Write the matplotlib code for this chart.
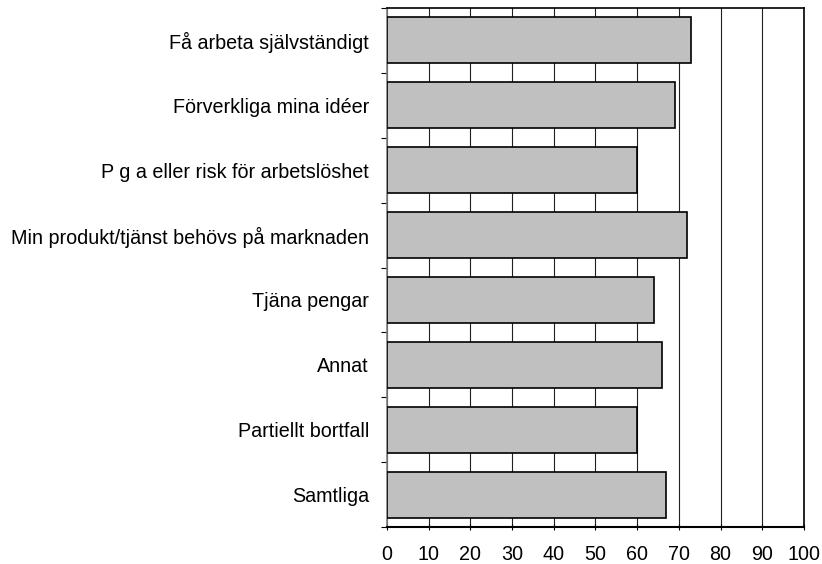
import matplotlib
matplotlib.use("Agg")
import matplotlib.pyplot as plt
import numpy as np

categories = [
    "Få arbeta självständigt",
    "Förverkliga mina idéer",
    "P g a eller risk för arbetslöshet",
    "Min produkt/tjänst behövs på marknaden",
    "Tjäna pengar",
    "Annat",
    "Partiellt bortfall",
    "Samtliga",
]
values = [73, 69, 60, 72, 64, 66, 60, 67]
xticks = [0, 10, 20, 30, 40, 50, 60, 70, 80, 90, 100]

plt.rcParams['font.family'] = ['Liberation Sans', 'DejaVu Sans']

fig = plt.figure(figsize=(8.22, 5.64), dpi=100)
ax = fig.add_axes([0.4708, 0.0656, 0.978 - 0.4708, 0.9858 - 0.0656])

y = np.arange(len(categories))
ax.barh(y, values, height=0.71, color='#c0c0c0', edgecolor='black', linewidth=1.2, zorder=3)
ax.set_xlim(0, 100)
ax.set_ylim(len(categories) - 0.5, -0.5)
ax.set_xticks(xticks)
ax.set_xticklabels([str(t) for t in xticks], fontsize=14.2)
ax.set_yticks(y)
ax.set_yticklabels(categories, fontsize=14.2)
ax.tick_params(axis='y', length=0, pad=13)
ax.set_yticks(np.arange(len(categories) + 1) - 0.5, minor=True)
ax.tick_params(axis='y', which='minor', length=4, color='black', width=0.8)
ax.tick_params(axis='x', length=4, width=0.8, direction='inout', pad=11)
ax.xaxis.grid(True, color='#202020', linewidth=0.8, zorder=0)
ax.set_axisbelow(True)
for s in ['top', 'right']:
    ax.spines[s].set_linewidth(1.2)
    ax.spines[s].set_color('black')
ax.spines['bottom'].set_linewidth(1.5)
ax.spines['left'].set_linewidth(1.2)
ax.spines['left'].set_color('#808080')

fig.savefig('out.png', dpi=100)
